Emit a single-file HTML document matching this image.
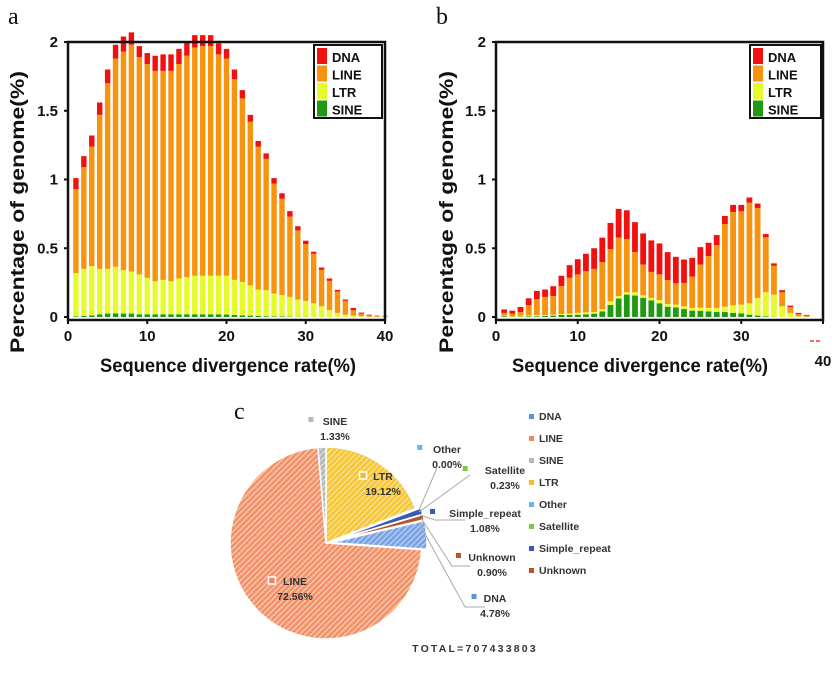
<!DOCTYPE html>
<html><head><meta charset="utf-8">
<style>
html,body{margin:0;padding:0;background:#fff;}
svg{display:block;font-family:"Liberation Sans",sans-serif;}
.tk{font-weight:bold;font-size:15px;fill:#111;}
.ttl{font-weight:bold;font-size:19px;fill:#111;}
.lg{font-weight:bold;font-size:13px;fill:#111;}
.pl{font-weight:bold;font-size:10.5px;fill:#333;}
</style></head>
<body>
<svg id="fig" width="832" height="680" viewBox="0 0 832 680">
<defs>
<pattern id="hLINE" width="4" height="4" patternUnits="userSpaceOnUse" patternTransform="rotate(45)"><rect width="4" height="4" fill="#f2946b"/><rect width="1" height="4" fill="#fbd5c3"/></pattern>
<pattern id="hLTR" width="4" height="4" patternUnits="userSpaceOnUse" patternTransform="rotate(45)"><rect width="4" height="4" fill="#f5c73a"/><rect width="1" height="4" fill="#fbe7a8"/></pattern>
<pattern id="hDNA" width="4" height="4" patternUnits="userSpaceOnUse" patternTransform="rotate(45)"><rect width="4" height="4" fill="#7ba4e6"/><rect width="1" height="4" fill="#c8d9f5"/></pattern>
<pattern id="hSINE" width="4" height="4" patternUnits="userSpaceOnUse" patternTransform="rotate(45)"><rect width="4" height="4" fill="#b3b9ba"/><rect width="1" height="4" fill="#e2e5e5"/></pattern>
</defs>
<text x="8" y="24" font-family="Liberation Serif,serif" font-size="24" fill="#111">a</text>
<text x="436" y="24" font-family="Liberation Serif,serif" font-size="24" fill="#111">b</text>
<text x="234" y="419" font-family="Liberation Serif,serif" font-size="24" fill="#111">c</text>
<g id="ga"></g>
<g id="gb"></g>
<g id="gc"></g>
</svg>
<script>
// Chart a data (cumulative tops): SINE, LTR, LINE, DNA
const aSINE=[0.005,0.008,0.012,0.02,0.025,0.027,0.025,0.025,0.02,0.02,0.02,0.02,0.02,0.02,0.02,0.02,0.02,0.02,0.02,0.018,0.015,0.012,0.01,0.008,0.006,0.005,0.004,0.003,0.002,0.002,0.001,0.001,0,0,0,0,0,0,0,0];
const aLTR=[0.32,0.35,0.37,0.35,0.35,0.365,0.34,0.33,0.31,0.285,0.26,0.27,0.26,0.28,0.29,0.30,0.30,0.30,0.30,0.30,0.27,0.255,0.23,0.20,0.195,0.17,0.16,0.146,0.127,0.117,0.10,0.078,0.05,0.03,0.017,0.01,0.005,0.002,0.001,0.001];
const aLINE=[0.93,1.09,1.24,1.47,1.70,1.88,1.93,1.98,1.89,1.84,1.79,1.79,1.79,1.84,1.90,1.96,1.97,1.97,1.91,1.88,1.73,1.59,1.42,1.24,1.15,0.97,0.86,0.73,0.63,0.53,0.46,0.343,0.263,0.185,0.117,0.05,0.025,0.012,0.007,0.005];
const aDNA=[1.01,1.17,1.32,1.56,1.80,1.98,2.04,2.07,1.97,1.92,1.90,1.91,1.91,1.95,2.00,2.05,2.05,2.05,1.99,1.95,1.80,1.65,1.47,1.28,1.19,1.01,0.90,0.77,0.66,0.555,0.475,0.36,0.28,0.197,0.127,0.066,0.032,0.017,0.01,0.008];
// Chart b data (cumulative tops)
const bSINE=[0.005,0.003,0.003,0.005,0.005,0.007,0.01,0.015,0.015,0.017,0.02,0.024,0.04,0.088,0.134,0.163,0.156,0.14,0.12,0.10,0.075,0.07,0.058,0.046,0.044,0.04,0.036,0.036,0.03,0.027,0.017,0.01,0.005,0.002,0,0,0,0];
const bLTR=[0.01,0.007,0.01,0.012,0.015,0.015,0.017,0.022,0.024,0.03,0.034,0.036,0.058,0.114,0.153,0.18,0.18,0.158,0.139,0.124,0.095,0.09,0.078,0.066,0.068,0.066,0.066,0.075,0.085,0.09,0.10,0.139,0.18,0.163,0.078,0.03,0.005,0.002];
const bLINE=[0.03,0.024,0.036,0.085,0.13,0.146,0.153,0.224,0.285,0.31,0.333,0.35,0.40,0.494,0.577,0.567,0.472,0.382,0.328,0.31,0.268,0.246,0.248,0.294,0.382,0.443,0.523,0.676,0.764,0.769,0.832,0.793,0.58,0.372,0.18,0.073,0.022,0.01];
const bDNA=[0.055,0.046,0.073,0.136,0.19,0.2,0.224,0.30,0.377,0.42,0.46,0.50,0.577,0.684,0.786,0.776,0.69,0.608,0.557,0.535,0.472,0.438,0.418,0.43,0.508,0.54,0.596,0.735,0.815,0.815,0.869,0.825,0.603,0.39,0.195,0.083,0.03,0.015];
const yTicks=[0,0.5,1,1.5,2];
const yTickLabels=["0","0.5","1","1.5","2"];
const xTicks=[0,10,20,30,40];
const legendNames=["DNA","LINE","LTR","SINE"];
const stackColors=["#1f9a12","#e8fb2a","#f7930f","#f01010"];
// Pie data
const pieNames=["LTR","Other","Satellite","Simple_repeat","Unknown","DNA","LINE","SINE"];
const pieValues=[19.12,0.00,0.23,1.08,0.90,4.78,72.56,1.33];
const pieLabels=["19.12%","0.00%","0.23%","1.08%","0.90%","4.78%","72.56%","1.33%"];
const legendOrder=["DNA","LINE","SINE","LTR","Other","Satellite","Simple_repeat","Unknown"];
const total="TOTAL=707433803";

const NS="http://www.w3.org/2000/svg";
function mk(p,t,a){const e=document.createElementNS(NS,t);for(const k in a)e.setAttribute(k,a[k]);p.appendChild(e);return e;}

function barChart(g,cfg,series){
  const X=v=>cfg.x0+(v/40)*(cfg.x1-cfg.x0);
  const Y=v=>cfg.y0-v*cfg.ppu;
  const n=series[0].length;
  for(let i=0;i<n;i++){
    let prev=0;
    for(let s=0;s<4;s++){
      const top=series[s][i];
      if(top>prev){
        const r=mk(g,'rect',{x:X(i+1)-cfg.bw/2,y:Y(top),width:cfg.bw,height:Math.max(Y(prev)-Y(top),0.01),fill:stackColors[s]});
        
        
        prev=top;
      }
    }
  }
  // frame
  const fr=mk(g,'rect',{x:cfg.x0,y:Y(2),width:cfg.x1-cfg.x0,height:cfg.y0+3-Y(2),fill:'none',stroke:'#111','stroke-width':2.5});
  
  
  yTicks.forEach((t,k)=>{
    mk(g,'line',{x1:cfg.x0-4,x2:cfg.x0,y1:Y(t),y2:Y(t),stroke:'#111','stroke-width':2});
    const tx=mk(g,'text',{x:cfg.x0-10,y:Y(t)+5,'text-anchor':'end',class:'tk'});
    tx.textContent=yTickLabels[k];
    
    
  });
  xTicks.forEach((t,k)=>{
    mk(g,'line',{x1:X(t),x2:X(t),y1:cfg.y0+3,y2:cfg.y0+7,stroke:'#111','stroke-width':2});
    const ly=(cfg.last40&&t===40)?366:341;
    const tx=mk(g,'text',{x:X(t),y:ly,'text-anchor':'middle',class:'tk'});
    tx.textContent=String(t);
    
    
  });
  const yt=mk(g,'text',{transform:`translate(${cfg.ytx},212) rotate(-90)`,'text-anchor':'middle',class:'ttl',textLength:282,lengthAdjust:'spacingAndGlyphs'});
  yt.textContent='Percentage of genome(%)';
  
  
  const xt=mk(g,'text',{x:cfg.xtx,y:372,'text-anchor':'middle',class:'ttl',textLength:256,lengthAdjust:'spacingAndGlyphs'});
  xt.textContent='Sequence divergence rate(%)';
  
  
  // legend
  const lgb=mk(g,'rect',{x:cfg.lx,y:45,width:cfg.lw,height:73,fill:'#fff',stroke:'#111','stroke-width':2});
  
  
  legendNames.forEach((nm,k)=>{
    const sw=mk(g,'rect',{x:cfg.lx+3,y:48+k*17.5,width:10,height:16,fill:stackColors[3-k]});
    
    
    const t=mk(g,'text',{x:cfg.lx+18,y:62+k*17.5,class:'lg'});
    t.textContent=nm;
    
    
  });
}
barChart(document.getElementById('ga'),{x0:68,x1:385,y0:317,ppu:137.5,bw:5.4,ytx:24,xtx:228,lx:314,lw:68},[aSINE,aLTR,aLINE,aDNA]);
barChart(document.getElementById('gb'),{x0:496,x1:823,y0:317,ppu:137.5,bw:5.8,ytx:453,xtx:640,lx:750,lw:71,last40:true},[bSINE,bLTR,bLINE,bDNA]);
mk(document.getElementById('gb'),'line',{x1:810,x2:822,y1:341,y2:341,stroke:'#f04020','stroke-width':1.5,'stroke-dasharray':'4 2'});

// Pie
(function(){
  const g=document.getElementById('gc');
  const cx=326,cy=543,r=96;
  const fills={LTR:'url(#hLTR)',Other:'#64b6ee',Satellite:'#7cc84a',Simple_repeat:'#3559b8',Unknown:'#b5542a',DNA:'url(#hDNA)',LINE:'url(#hLINE)',SINE:'url(#hSINE)'};
  const sq={DNA:'#5b8fe0',LINE:'#ec8a5c',SINE:'#b3b9ba',LTR:'#f2be2a',Other:'#64b6ee',Satellite:'#7cc84a',Simple_repeat:'#3559b8',Unknown:'#b5542a'};
  const sum=pieValues.reduce((a,b)=>a+b,0);
  let a0=-Math.PI/2;
  pieNames.forEach((nm,i)=>{
    const frac=pieValues[i]/sum;const a1=a0+frac*2*Math.PI;
    if(frac>0){
      const mid=(a0+a1)/2;const off=(nm==='LINE'||nm==='LTR'||nm==='SINE')?0:5;
      const ox=cx+off*Math.cos(mid),oy=cy+off*Math.sin(mid);
      const large=(a1-a0)>Math.PI?1:0;
      const d=`M${ox},${oy}L${ox+r*Math.cos(a0)},${oy+r*Math.sin(a0)}A${r},${r} 0 ${large} 1 ${ox+r*Math.cos(a1)},${oy+r*Math.sin(a1)}Z`;
      const p=mk(g,'path',{d:d,fill:fills[nm],stroke:'#fff','stroke-width':1.5});
      
      
    }
    a0=a1;
  });
  const labPos={SINE:[335,425],Other:[447,453],Satellite:[505,474],Simple_repeat:[485,517],Unknown:[492,561],DNA:[495,602],LTR:[383,480],LINE:[295,585]};
  const lines=[[419,510,437,468],[419,512,470,475],[420,515,435,520,465,520],[421,518,452,566,470,566],[420,525,465,607,485,607]];
  lines.forEach(l=>{const pl=mk(g,'polyline',{points:l.join(','),fill:'none',stroke:'#aaa','stroke-width':1});
    
    });
  pieNames.forEach((nm,i)=>{
    const [x,y]=labPos[nm];
    const w=nm.length*6.3;
    const inside=(nm==='LTR'||nm==='LINE');
    const s=mk(g,'rect',{x:x-w/2-14,y:y-8,width:inside?7:5,height:inside?7:5,fill:sq[nm],stroke:inside?'#fff':'none','stroke-width':1.5});
    
    
    const t=mk(g,'text',{x:x,y:y,'text-anchor':'middle',class:'pl'});t.textContent=nm;
    
    
    const t2=mk(g,'text',{x:x,y:y+15,'text-anchor':'middle',class:'pl'});t2.textContent=pieLabels[i];
    
    
  });
  legendOrder.forEach((nm,k)=>{
    const y=420+k*22;
    const s=mk(g,'rect',{x:529,y:y-6,width:5,height:5,fill:sq[nm]});
    
    
    const t=mk(g,'text',{x:539,y:y,class:'pl'});t.textContent=nm;
    
    
  });
  const tt=mk(g,'text',{x:475,y:652,'text-anchor':'middle',class:'pl','letter-spacing':'2.2'});tt.textContent=total;
  
  
})();
</script>
</body></html>
